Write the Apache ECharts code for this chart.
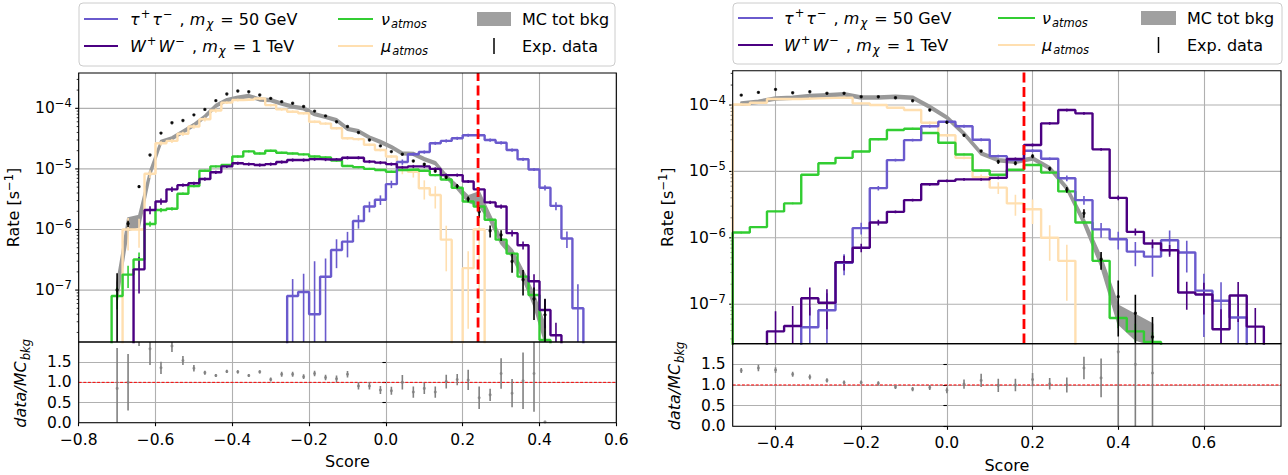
<!DOCTYPE html>
<html>
<head>
<meta charset="utf-8">
<script src="https://cdn.jsdelivr.net/npm/echarts@6.0.0/dist/echarts.min.js"></script>
<style>
html,body{margin:0;padding:0;background:#ffffff;}
#chart{width:1288px;height:475px;}
</style>
</head>
<body>
<div id="chart"></div>
<script>
// ================= DATA =================
// Left panel: 49 bins of width 1/35 starting at -0.8
const binStartL = -0.8, binWidthL = 0.2 / 7, nBinsL = 49;
// Right panel: 32 bins of width 0.04 starting at -0.5
const binStartR = -0.5, binWidthR = 0.04, nBinsR = 32;

const xTicksL = [-0.8, -0.6, -0.4, -0.2, 0.0, 0.2, 0.4, 0.6];
const xTicksR = [-0.4, -0.2, 0.0, 0.2, 0.4, 0.6];
const ratioTicks = [0.0, 0.5, 1.0, 1.5];
const cutL = 0.24, cutR = 0.18;

// ---- left panel (rates in s^-1, 0 = empty bin) ----
const tauL = [0,0,0,0,0,0,0,0,0,0, 0,0,0,0,0,0,0,0,0,8e-8, 9.3e-8,4e-8,1.66e-7,4.6e-7,6.3e-7,1.38e-6,2.4e-6,3.1e-6,5.6e-6,1.3e-5, 1.75e-5,1.9e-5,2.65e-5,2.9e-5,3.2e-5,3.6e-5,3.6e-5,3.0e-5,2.7e-5,2.05e-5, 1.44e-5,9.8e-6,4.9e-6,2.45e-6,7.1e-7,5e-8,0,0,0];
const wL   = [0,0,0,0,0,2.2e-7,2.1e-6,2.9e-6,4.6e-6,5.4e-6, 5.8e-6,6.8e-6,8.8e-6,1.1e-5,1.24e-5,1.2e-5,1.16e-5,1.2e-5,1.3e-5,1.4e-5, 1.4e-5,1.45e-5,1.43e-5,1.43e-5,1.53e-5,1.53e-5,1.32e-5,1.27e-5,1.2e-5,1.06e-5, 1.1e-5,1.1e-5,1.0e-5,7.9e-6,7.9e-6,6.2e-6,4.6e-6,2.8e-6,2.4e-6,8.7e-7, 5.5e-7,1.4e-7,4.7e-8,1.8e-8,0,0,0,0,0];
const nuL  = [0,0,0,8e-8,1.8e-7,3.2e-7,1.23e-6,2.1e-6,2.2e-6,3.9e-6, 5.2e-6,9.3e-6,1.1e-5,1.16e-5,1.6e-5,1.95e-5,1.8e-5,2.0e-5,1.85e-5,1.8e-5, 1.74e-5,1.6e-5,1.55e-5,1.37e-5,1.12e-5,1.07e-5,1.0e-5,9.6e-6,9.0e-6,9.6e-6, 9.8e-6,9.3e-6,7.9e-6,6.7e-6,4.9e-6,2.9e-6,2.4e-6,1.45e-6,6.8e-7,4.0e-7, 1.67e-7,8.3e-8,1.5e-8,0,0,0,0,0,0];
const muL  = [0,0,0,0,1.0e-6,1.0e-6,8.3e-6,2.65e-5,2.9e-5,3.8e-5, 5.0e-5,6.6e-5,9.2e-5,1.24e-4,1.37e-4,1.4e-4,1.45e-4,1.13e-4,9.6e-5,8.8e-5, 8.3e-5,6.0e-5,5.6e-5,4.7e-5,3.2e-5,3.1e-5,2.5e-5,2.05e-5,1.6e-5,9.6e-6, 9.0e-6,4.8e-6,3.7e-6,6.8e-7,0,2.3e-7,1.0e-6,0,0,0, 0,0,0,0,0,0,0,0,0];
const mcL  = [0,0,0,1.0e-7,1.25e-6,1.4e-6,8.5e-6,2.8e-5,3.2e-5,4.1e-5, 5.3e-5,7.3e-5,1.1e-4,1.37e-4,1.5e-4,1.6e-4,1.4e-4,1.37e-4,1.2e-4,1.07e-4, 1.0e-4,8.0e-5,7.2e-5,6.4e-5,4.6e-5,4.2e-5,3.3e-5,2.8e-5,2.3e-5,1.8e-5, 1.77e-5,1.45e-5,1.25e-5,7.5e-6,5.0e-6,3.2e-6,3.3e-6,1.55e-6,6.5e-7,4.1e-7, 1.8e-7,7e-8,2e-8,0,0,0,0,0,0];
const dataL = [0,0,0,1.0e-7,1.25e-6,5.1e-6,1.7e-5,3.9e-5,5.8e-5,6.3e-5, 7.8e-5,9.6e-5,1.34e-4,1.72e-4,1.93e-4,1.88e-4,1.66e-4,1.46e-4,1.29e-4,1.21e-4, 1.07e-4,9.0e-5,7.5e-5,6.0e-5,5.0e-5,4.0e-5,3.0e-5,2.4e-5,1.93e-5,1.74e-5, 1.35e-5,1.19e-5,9.2e-6,7.3e-6,5.2e-6,3.2e-6,1.96e-6,9.5e-7,8.1e-7,2.96e-7, 1.48e-7,7.1e-8,3.9e-8,0,0,0,0,0,0];
const ratioL = [null,null,null,0.85,1.0,2.2,1.83,1.36,1.9,1.54, 1.35,1.24,1.17,1.27,1.26,1.17,1.26,1.07,1.2,1.2, 1.14,1.22,1.12,1.09,1.2,0.91,0.91,0.81,0.79,1.0, 0.76,0.85,0.76,1.02,1.07,1.06,0.62,0.69,1.22,0.73, 1.04,1.22,0.02,null,null,null,null,null,null];
// relative errors (main) / absolute errors (ratio)
const tauErrL = [0,0,0,0,0,0,0,0,0,0, 0,0,0,0,0,0,0,0,0,0.9, 1.0,6.5,1.0,0.5,0.45,0.25,0.2,0.18,0.14,0.1, 0.06,0.06,0.06,0.06,0.06,0.06,0.06,0.06,0.06,0.06, 0.06,0.06,0.1,0.15,0.3,1.5,0,0,0];
const wErrL = [0,0,0,0,0,0.6,0.15,0.12,0.1,0.06, 0.06,0.06,0.06,0.06,0.06,0.06,0.06,0.06,0.06,0.06, 0.06,0.06,0.06,0.06,0.06,0.06,0.06,0.06,0.06,0.06, 0.06,0.06,0.06,0.06,0.06,0.06,0.06,0.06,0.08,0.12, 0.15,0.3,0.5,0.6,0,0,0,0,0];
const nuErrL = [0,0,0,0.4,0.4,0.3,0.1,0.08,0.06,0.05, 0.04,0.04,0.04,0.04,0.04,0.04,0.04,0.04,0.04,0.04, 0.04,0.04,0.04,0.04,0.04,0.04,0.04,0.04,0.04,0.04, 0.04,0.04,0.04,0.04,0.04,0.04,0.04,0.04,0.04,0.04, 0.1,0.2,0.4,0,0,0,0,0,0];
const muErrL = [0,0,0,0,0.55,0.5,0.15,0.08,0.08,0.08, 0.08,0.08,0.08,0.05,0.05,0.05,0.05,0.05,0.05,0.05, 0.05,0.05,0.05,0.05,0.05,0.05,0.05,0.05,0.05,0.15, 0.2,0.35,0.4,0.7,0,0.9,0.95,0,0,0, 0,0,0,0,0,0,0,0,0];
const mcErrL = [0,0,0,0.3,0.22,0.2,0.08,0.04,0.04,0.04, 0.04,0.04,0.04,0.04,0.04,0.04,0.04,0.04,0.04,0.04, 0.04,0.04,0.04,0.04,0.04,0.04,0.04,0.04,0.04,0.04, 0.04,0.04,0.04,0.05,0.06,0.1,0.25,0.1,0.1,0.12, 0.15,0.2,0.3,0,0,0,0,0,0];
const dataErrL = [0,0,0,0.9,0.12,0.05,0.03,0.03,0.03,0.03, 0.03,0.03,0.03,0.03,0.03,0.03,0.03,0.03,0.03,0.03, 0.03,0.03,0.03,0.03,0.03,0.03,0.03,0.03,0.03,0.03, 0.04,0.05,0.05,0.06,0.08,0.1,0.2,0.22,0.2,0.35, 0.45,0.55,0.85,0,0,0,0,0,0];
const ratioErrL = [0,0,0,1.0,0.7,0.3,0.4,0.15,0.15,0.11, 0.08,0.05,0.04,0.04,0.04,0.04,0.04,0.05,0.06,0.06, 0.06,0.07,0.07,0.08,0.08,0.09,0.09,0.1,0.1,0.18, 0.14,0.14,0.14,0.17,0.14,0.25,0.28,0.15,0.38,0.35, 0.7,0.95,0,0,0,0,0,0,0];

// ---- right panel ----
const tauR = [0,0,0,0,4.5e-8,8.1e-8,4.2e-7,1.4e-6,5.6e-6,1.48e-5, 2.96e-5,4.8e-5,5.6e-5,4.8e-5,3.0e-5,1.7e-5,1.48e-5,2.05e-5,1.55e-5,7.9e-6, 3.7e-6,1.34e-6,9.5e-7,6.2e-7,5.2e-7,9.2e-7,6.0e-7,1.6e-7,1.13e-7,6.3e-8, 0,0];
const wR   = [0,0,3.9e-8,4.7e-8,1.23e-7,1.05e-7,4.3e-7,7.1e-7,1.7e-6,2.46e-6, 3.7e-6,6.4e-6,7.2e-6,7.6e-6,7.6e-6,8.0e-6,1.54e-5,2.5e-5,5.3e-5,8.4e-5, 7.5e-5,2.15e-5,4.0e-6,1.23e-6,8.2e-7,6.5e-7,1.5e-7,1.4e-7,4.2e-8,1.35e-7, 4.6e-8,0];
const nuR  = [1.2e-6,1.45e-6,2.5e-6,3.3e-6,8.9e-6,1.33e-5,1.6e-5,2.0e-5,3.05e-5,4.2e-5, 4.4e-5,3.8e-5,2.7e-5,1.8e-5,1.03e-5,8.9e-6,1.06e-5,1.25e-5,9.6e-6,5.0e-6, 1.7e-6,4.5e-7,6.2e-8,3.9e-8,2.7e-8,0,0,0,0,0, 0,0];
const muR  = [1.02e-4,1.08e-4,1.23e-4,1.23e-4,1.26e-4,1.28e-4,1.29e-4,1.06e-4,1.0e-4,9.1e-5, 8.4e-5,5.4e-5,3.5e-5,1.6e-5,8.2e-6,5.7e-6,3.3e-6,2.7e-6,1.0e-6,4.5e-7, 0,0,0,0,0,0,0,0,0,0, 0,0];
const mcR  = [1.06e-4,1.12e-4,1.26e-4,1.29e-4,1.37e-4,1.41e-4,1.46e-4,1.3e-4,1.3e-4,1.33e-4, 1.29e-4,9.4e-5,6.5e-5,3.7e-5,1.87e-5,1.48e-5,1.4e-5,1.57e-5,1.12e-5,5.6e-6, 1.75e-6,4.4e-7,7.3e-8,4.9e-8,3.7e-8,0,0,0,0,0, 0,0];
const dataR = [1.41e-4,1.55e-4,1.72e-4,1.53e-4,1.59e-4,1.5e-4,1.5e-4,1.33e-4,1.33e-4,1.29e-4, 1.16e-4,8.4e-5,5.5e-5,3.5e-5,2.03e-5,1.4e-5,1.33e-5,1.7e-5,1.1e-5,5.3e-6, 2.35e-6,4.7e-7,1.3e-7,7.3e-8,3.2e-8,0,0,0,0,0, 0,0];
const ratioR = [1.35,1.41,1.36,1.26,1.19,1.11,1.06,1.06,1.04,0.95, 0.9,0.94,0.87,1.02,1.11,0.99,1.0,1.13,1.03,1.0, 1.41,1.17,1.8,1.5,1.29,null,null,null,null,null, null,null];
const tauErrR = [0,0,0,0,1.0,0.8,0.35,0.2,0.08,0.05, 0.05,0.05,0.05,0.05,0.05,0.05,0.05,0.05,0.05,0.1, 0.15,0.25,0.3,0.4,0.5,0.4,0.5,0.8,0.9,1.2, 0,0];
const wErrR = [0,0,1.0,1.0,0.45,0.6,0.25,0.15,0.1,0.05, 0.05,0.05,0.05,0.05,0.05,0.05,0.05,0.05,0.05,0.05, 0.05,0.05,0.08,0.12,0.15,0.2,0.45,0.5,1.0,0.6, 0.9,0];
const nuErrR = [0.03,0.03,0.03,0.03,0.03,0.03,0.03,0.03,0.03,0.03, 0.03,0.03,0.03,0.03,0.03,0.03,0.03,0.03,0.03,0.03, 0.05,0.08,0.3,0.3,0.4,0,0,0,0,0, 0,0];
const muErrR = [0.03,0.03,0.03,0.03,0.03,0.03,0.03,0.03,0.03,0.03, 0.03,0.05,0.05,0.05,0.1,0.2,0.35,0.4,0.55,0.75, 0,0,0,0,0,0,0,0,0,0, 0,0];
const mcErrR = [0.04,0.04,0.04,0.04,0.04,0.04,0.04,0.04,0.04,0.04, 0.04,0.04,0.04,0.04,0.04,0.04,0.04,0.04,0.04,0.05, 0.08,0.15,0.3,0.4,0.35,0,0,0,0,0, 0,0];
const dataErrR = [0.03,0.03,0.03,0.03,0.03,0.03,0.03,0.03,0.03,0.03, 0.03,0.04,0.04,0.04,0.04,0.07,0.07,0.07,0.07,0.1, 0.15,0.3,0.75,0.9,1.0,0,0,0,0,0, 0,0];
const ratioErrR = [0.06,0.08,0.07,0.06,0.06,0.05,0.05,0.05,0.05,0.05, 0.05,0.06,0.07,0.11,0.16,0.16,0.15,0.16,0.14,0.18, 0.27,0.47,2.5,2.5,2.5,0,0,0,0,0, 0,0];

// ================= STYLE =================
const FONT = 'DejaVu Sans';
const FS = 16, FST = 15.5, FSS = 11.5;
const GRIDC = '#b0b0b0';
const C_TAU = '#6a5acd', C_W = '#4b0082', C_NU = '#32cd32', C_MU = '#ffdfb0', C_MC = '#999999', C_RAT = '#808080';
const FLOOR = 1e-12;
const Y_L = [1.39e-8, 3.83e-4], Y_R = [2.55e-8, 3.29e-4];
const X_L = [-0.8, 0.6], X_R = [-0.5, 0.78];

function fmtX(v) { if (Math.abs(v) < 1e-9) return '0.0'; return (v < 0 ? '\u2212' : '') + Math.abs(v).toFixed(1); }
function fmtLog(v) { const e = Math.log10(v); const r = Math.round(e); if (Math.abs(e - r) > 1e-6) return ''; return '10{sp|' + (r < 0 ? '\u2212' : '') + Math.abs(r) + '}'; }
function fmtRatio(v) { return v > 1.9 ? '' : v.toFixed(1); }

const SUP = { fontSize: FSS, fontFamily: FONT, color: '#000', fill: '#000', lineHeight: 11, verticalAlign: 'top', padding: [0, 2, 0, 1] };
const SUB = { fontSize: FSS, fontFamily: FONT, color: '#000', fill: '#000', fontStyle: 'italic', lineHeight: 11, verticalAlign: 'bottom', padding: [0, 2, 0, 1] };
const ITA = { fontSize: FS, fontFamily: FONT, color: '#000', fill: '#000', fontStyle: 'italic', lineHeight: 22 };
const RICH = { sp: SUP, sb: SUB, i: ITA };
const LOGSUP = { fontSize: FSS, fontFamily: FONT, color: '#000', lineHeight: 11, verticalAlign: 'top' };

// ================= SERIES BUILDERS =================
function edgesOf(start, width, n) { const e = []; for (let i = 0; i <= n; i++) e.push(start + i * width); return e; }
function centersOf(start, width, n) { const c = []; for (let i = 0; i < n; i++) c.push(start + (i + 0.5) * width); return c; }

function stepSeries(ax, ed, vals, color, z) {
  const d = [[ed[0], FLOOR]];
  for (let i = 0; i < vals.length; i++) d.push([ed[i], vals[i] > 0 ? vals[i] : FLOOR]);
  const last = vals[vals.length - 1];
  d.push([ed[vals.length], last > 0 ? last : FLOOR]);
  d.push([ed[vals.length], FLOOR]);
  return { type: 'line', xAxisIndex: ax, yAxisIndex: ax, step: 'end', showSymbol: false, silent: true, z: z,
    data: d, lineStyle: { color: color, width: 2.4 }, itemStyle: { color: color }, clip: true };
}
function errSeries(ax, ct, vals, errs, color, w, relative, z) {
  const data = [];
  for (let i = 0; i < vals.length; i++) {
    const v = vals[i];
    if (v == null || !(v > 0) || !errs[i]) continue;
    let lo, hi;
    if (relative) { lo = v * (1 - errs[i]); hi = v * (1 + errs[i]); if (lo <= 0) lo = FLOOR; }
    else { lo = v - errs[i]; hi = v + errs[i]; }
    data.push([ct[i], lo, hi]);
  }
  return { type: 'custom', xAxisIndex: ax, yAxisIndex: ax, silent: true, clip: true, z: z,
    encode: { x: 0, y: [1, 2] }, data: data,
    renderItem: function (params, api) {
      const p1 = api.coord([api.value(0), api.value(1)]);
      const p2 = api.coord([api.value(0), api.value(2)]);
      return { type: 'line', shape: { x1: p1[0], y1: p1[1], x2: p2[0], y2: p2[1] }, style: { stroke: color, lineWidth: w } };
    } };
}
function bandSeries(ax, ct, mc, err) {
  return { type: 'custom', xAxisIndex: ax, yAxisIndex: ax, silent: true, clip: true, z: 2,
    data: [[ct[0], 1e-5]],
    renderItem: function (params, api) {
      const up = [], lo = [];
      for (let i = 0; i < mc.length; i++) {
        if (!(mc[i] > 0)) continue;
        up.push(api.coord([ct[i], mc[i] * (1 + err[i])]));
        lo.push(api.coord([ct[i], Math.max(mc[i] * (1 - err[i]), FLOOR)]));
      }
      const pts = up.concat(lo.reverse());
      return { type: 'polygon', shape: { points: pts }, style: { fill: C_MC, stroke: C_MC, lineWidth: 2.2, lineJoin: 'round' } };
    } };
}
function logGridSeries(ax, xr, yr) {
  return { type: 'custom', xAxisIndex: ax, yAxisIndex: ax, silent: true, clip: false, z: 1,
    data: [[xr[0], 1e-5]],
    renderItem: function (params, api) {
      const ch = [];
      const x0 = api.coord([xr[0], yr[0]])[0], x1 = api.coord([xr[1], yr[0]])[0];
      for (let n = -9; n <= -2; n++) {
        for (let k = 1; k <= 9; k++) {
          const v = k * Math.pow(10, n);
          if (v <= yr[0] || v >= yr[1]) continue;
          const y = api.coord([xr[0], v])[1];
          if (k === 1) ch.push({ type: 'line', shape: { x1: x0, y1: y, x2: x1, y2: y }, style: { stroke: GRIDC, lineWidth: 1.1 } });
          const len = k === 1 ? 3.5 : 2;
          ch.push({ type: 'line', shape: { x1: x0 - len, y1: y, x2: x0, y2: y }, style: { stroke: '#000', lineWidth: k === 1 ? 1.1 : 0.8 } });
        }
      }
      return { type: 'group', children: ch };
    } };
}
function frameSeries(ax, xr, yr) {
  return { type: 'custom', xAxisIndex: ax, yAxisIndex: ax, silent: true, clip: false, z: 6,
    data: [[xr[0], yr[0]]],
    renderItem: function (params, api) {
      const p0 = api.coord([xr[0], yr[1]]);
      const p1 = api.coord([xr[1], yr[0]]);
      return { type: 'rect', shape: { x: p0[0], y: p0[1], width: p1[0] - p0[0], height: p1[1] - p0[1] },
        style: { fill: 'none', stroke: '#000', lineWidth: 1.1 } };
    } };
}

function panelSeries(P) {
  const ed = edgesOf(P.start, P.width, P.n), ct = centersOf(P.start, P.width, P.n);
  const m = P.ax, r = P.ax + 1;
  const S = [];
  S.push(logGridSeries(m, P.xr, P.yr));
  S.push(bandSeries(m, ct, P.mc, P.mcErr));
  const hs = [[P.mu, P.muErr, C_MU], [P.nu, P.nuErr, C_NU], [P.tau, P.tauErr, C_TAU], [P.w, P.wErr, C_W]];
  hs.forEach(function (h) {
    S.push(stepSeries(m, ed, h[0], h[2], 3));
    S.push(errSeries(m, ct, h[0], h[1], h[2], 1.6, true, 3));
  });
  S.push(errSeries(m, ct, P.data, P.dataErr, '#000', 1.6, true, 4));
  S.push({ type: 'scatter', xAxisIndex: m, yAxisIndex: m, z: 4, silent: true, symbol: 'circle', symbolSize: 3.4,
    itemStyle: { color: '#000' }, data: ct.map(function (x, i) { return P.data[i] > 0 ? [x, P.data[i]] : null; }).filter(Boolean) });
  S.push({ type: 'line', xAxisIndex: m, yAxisIndex: m, z: 5, silent: true, showSymbol: false,
    data: [[P.cut, P.yr[0]], [P.cut, P.yr[1]]], lineStyle: { color: '#ff0000', width: 2.8, type: [10, 4.5] } });
  S.push(frameSeries(m, P.xr, P.yr));
  // ratio panel
  S.push({ type: 'line', xAxisIndex: r, yAxisIndex: r, z: 2, silent: true, showSymbol: false,
    data: [[P.xr[0], 1], [P.xr[1], 1]], lineStyle: { color: '#ff0000', width: 1, type: [3, 1.6] } });
  S.push(errSeries(r, ct, P.ratio, P.ratioErr, C_RAT, 1.6, false, 3));
  S.push({ type: 'scatter', xAxisIndex: r, yAxisIndex: r, z: 4, silent: true, symbol: 'circle', symbolSize: 3,
    itemStyle: { color: C_RAT }, data: ct.map(function (x, i) { return P.ratio[i] != null ? [x, P.ratio[i]] : null; }).filter(Boolean) });
  S.push(frameSeries(r, P.xr, [0, 2]));
  return S;
}

const series = [].concat(
  panelSeries({ ax: 0, start: binStartL, width: binWidthL, n: nBinsL, xr: X_L, yr: Y_L, cut: cutL,
    tau: tauL, w: wL, nu: nuL, mu: muL, mc: mcL, data: dataL, ratio: ratioL,
    tauErr: tauErrL, wErr: wErrL, nuErr: nuErrL, muErr: muErrL, mcErr: mcErrL, dataErr: dataErrL, ratioErr: ratioErrL }),
  panelSeries({ ax: 2, start: binStartR, width: binWidthR, n: nBinsR, xr: X_R, yr: Y_R, cut: cutR,
    tau: tauR, w: wR, nu: nuR, mu: muR, mc: mcR, data: dataR, ratio: ratioR,
    tauErr: tauErrR, wErr: wErrR, nuErr: nuErrR, muErr: muErrR, mcErr: mcErrR, dataErr: dataErrR, ratioErr: ratioErrR })
);

// ================= AXES =================
const splitX = { show: true, lineStyle: { color: GRIDC, width: 1.1 } };
const tickStyle = { show: true, length: 3.5, inside: false, lineStyle: { color: '#000', width: 1.1 } };
const lblStyle = { fontSize: FST, fontFamily: FONT, color: '#000' };
const nameStyle = { fontSize: FS, fontFamily: FONT, color: '#000', lineHeight: 22, rich: RICH };

function xMain(gi, xr, left) {
  const a = { type: 'value', gridIndex: gi, min: xr[0], max: xr[1], axisLine: { show: false },
    axisTick: { show: false }, axisLabel: { show: false }, splitLine: splitX };
  if (left) a.interval = 0.2; else { a.axisTick.customValues = xTicksR; a.axisLabel.customValues = xTicksR; }
  return a;
}
function xRatio(gi, xr, left) {
  const a = { type: 'value', gridIndex: gi, min: xr[0], max: xr[1], axisLine: { show: false },
    axisTick: Object.assign({}, tickStyle),
    axisLabel: Object.assign({ formatter: fmtX, margin: 9 }, lblStyle),
    splitLine: splitX, name: 'Score', nameLocation: 'middle', nameGap: 31, nameMoveOverlap: false,
    nameTextStyle: { fontSize: FS, fontFamily: FONT, color: '#000' } };
  if (left) a.interval = 0.2; else { a.axisTick.customValues = xTicksR; a.axisLabel.customValues = xTicksR; }
  return a;
}
function yMain(gi, yr, gap) {
  return { type: 'log', logBase: 10, gridIndex: gi, min: yr[0], max: yr[1], axisLine: { show: false },
    axisTick: { show: false }, splitLine: { show: false },
    axisLabel: Object.assign({ formatter: fmtLog, margin: 7, lineHeight: 22, rich: { sp: LOGSUP } }, lblStyle),
    name: 'Rate [s{sp|\u22121}]', nameLocation: 'middle', nameGap: gap, nameMoveOverlap: false,
    nameTextStyle: { fontSize: FS, fontFamily: FONT, color: '#000', lineHeight: 22, rich: { sp: LOGSUP } } };
}
function yRatio(gi, gap) {
  return { type: 'value', gridIndex: gi, min: 0, max: 2, interval: 0.5, axisLine: { show: false },
    axisTick: Object.assign({ customValues: ratioTicks }, tickStyle),
    axisLabel: Object.assign({ formatter: fmtRatio, margin: 7, customValues: ratioTicks }, lblStyle),
    splitLine: { show: true, lineStyle: { color: GRIDC, width: 1.1 } },
    name: '{i|data/MC}{sb|bkg}', nameLocation: 'middle', nameGap: gap, nameMoveOverlap: false, nameTextStyle: nameStyle };
}

// ================= LEGENDS =================
function legend(box, rows, c) {
  const els = [];
  els.push({ type: 'rect', shape: { x: box[0], y: box[1], width: box[2], height: box[3], r: 4 },
    style: { fill: '#ffffff', stroke: '#cccccc', lineWidth: 1 }, z: 10 });
  const txt = function (x, y, t) {
    return { type: 'text', x: x, y: y, z: 11, style: { text: t, fontSize: FS, fontFamily: FONT,
      fill: '#000', align: 'left', verticalAlign: 'middle', lineHeight: 22, rich: RICH } };
  };
  const ln = function (x1, x2, y, col) {
    return { type: 'line', z: 11, shape: { x1: x1, y1: y, x2: x2, y2: y }, style: { stroke: col, lineWidth: 2.2 } };
  };
  els.push(ln(c.l1[0], c.l1[1], rows[0], C_TAU));
  els.push(txt(c.t1, rows[0], '{i|\u03c4}{sp|+}{i|\u03c4}{sp|\u2212} , {i|m}{sb|\u03c7} = 50 GeV'));
  els.push(ln(c.l1[0], c.l1[1], rows[1], C_W));
  els.push(txt(c.t1, rows[1], '{i|W}{sp|+}{i|W}{sp|\u2212} , {i|m}{sb|\u03c7} = 1 TeV'));
  els.push(ln(c.l2[0], c.l2[1], rows[0], C_NU));
  els.push(txt(c.t2, rows[0], '{i|\u03bd}{sb|atmos}'));
  els.push(ln(c.l2[0], c.l2[1], rows[1], C_MU));
  els.push(txt(c.t2, rows[1], '{i|\u03bc}{sb|atmos}'));
  els.push({ type: 'rect', z: 11, shape: { x: c.r3[0], y: rows[0] - 7, width: c.r3[1] - c.r3[0], height: 14 }, style: { fill: '#a0a0a0' } });
  els.push(txt(c.t3, rows[0], 'MC tot bkg'));
  const bx = (c.r3[0] + c.r3[1]) / 2;
  els.push({ type: 'line', z: 11, shape: { x1: bx, y1: rows[1] - 8, x2: bx, y2: rows[1] + 8 }, style: { stroke: '#000', lineWidth: 1.5 } });
  els.push(txt(c.t3, rows[1], 'Exp. data'));
  return els;
}
const graphicEls = [].concat(
  legend([79, 3, 536, 63], [19, 46], { l1: [84, 118], t1: 130, l2: [338, 373], t2: 381, r3: [477, 511], t3: 522 }),
  legend([733, 3, 549, 61], [18, 45], { l1: [738, 773], t1: 784, l2: [998, 1035], t2: 1042, r3: [1141, 1176], t3: 1187 })
);

const option = {
  animation: false,
  backgroundColor: '#ffffff',
  textStyle: { fontFamily: FONT },
  grid: [
    { left: 78.7, top: 73, width: 537.6, height: 269, show: false, outerBoundsMode: 'none' },
    { left: 78.7, top: 342, width: 537.6, height: 80.7, show: false, outerBoundsMode: 'none' },
    { left: 732.7, top: 70.7, width: 548.3, height: 272.9, show: false, outerBoundsMode: 'none' },
    { left: 732.7, top: 343.6, width: 548.3, height: 82.7, show: false, outerBoundsMode: 'none' }
  ],
  xAxis: [ xMain(0, X_L, true), xRatio(1, X_L, true), xMain(2, X_R, false), xRatio(3, X_R, false) ],
  yAxis: [ yMain(0, Y_L, 54), yRatio(1, 47), yMain(2, Y_R, 54), yRatio(3, 47) ],
  graphic: { elements: graphicEls },
  series: series
};

const chart = echarts.init(document.getElementById('chart'), null, { renderer: 'svg', width: 1288, height: 475 });
chart.setOption(option);
</script>
</body>
</html>
